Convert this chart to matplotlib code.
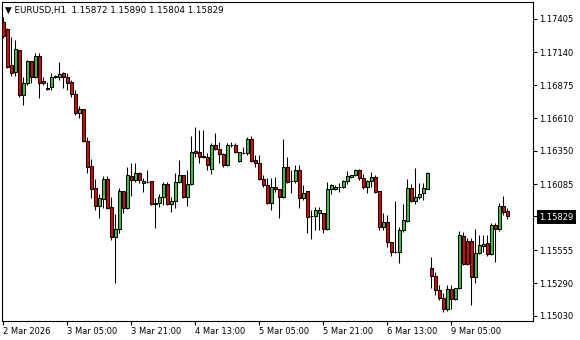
import matplotlib
matplotlib.use("Agg")
import matplotlib.pyplot as plt
import numpy as np

# EURUSD H1 bars (oldest first)
opens = [
    1.17381, 1.17325, 1.17037, 1.16981, 1.17157, 1.16797, 1.16893, 1.17069, 1.16941, 1.17109,
    1.16909, 1.16853, 1.16861, 1.16941, 1.16941, 1.16973, 1.16941, 1.16901, 1.16805, 1.16653,
    1.16685, 1.16429, 1.16229, 1.16053, 1.15909, 1.15965, 1.16125, 1.15901, 1.15661, 1.15725,
    1.16029, 1.15893, 1.16149, 1.16117, 1.16173, 1.16093, 1.16101, 1.16109, 1.15933, 1.15933,
    1.15981, 1.16085, 1.15925, 1.15949, 1.16101, 1.16157, 1.15981, 1.16085, 1.16349, 1.16341,
    1.16309, 1.16301, 1.16205, 1.16397, 1.16365, 1.16325, 1.16237, 1.16397, 1.16397, 1.16269,
    1.16333, 1.16333, 1.16445, 1.16277, 1.16253, 1.16125, 1.16077, 1.15933, 1.16061, 1.16045,
    1.15981, 1.16221, 1.16109, 1.16109, 1.16197, 1.15973, 1.16029, 1.15829, 1.15829, 1.15853,
    1.15853, 1.15725, 1.16045, 1.16045, 1.16061, 1.16061, 1.16109, 1.16141, 1.16157, 1.16197,
    1.16133, 1.16061, 1.16109, 1.16141, 1.16029, 1.15741, 1.15781, 1.15621, 1.15541, 1.15541,
    1.15717, 1.15789, 1.16053, 1.15949, 1.15981, 1.16013, 1.16045, 1.15413, 1.15349, 1.15237,
    1.15173, 1.15085, 1.15245, 1.15165, 1.15253, 1.15669, 1.15629, 1.15629, 1.15341, 1.15533,
    1.15589, 1.15613, 1.15525, 1.15757, 1.15725, 1.15909, 1.15872]
highs = [
    1.17421, 1.17333, 1.17261, 1.17237, 1.17157, 1.16941, 1.17077, 1.17069, 1.17133, 1.17133,
    1.16941, 1.16901, 1.16973, 1.16957, 1.17061, 1.16981, 1.16973, 1.16917, 1.16837, 1.16709,
    1.16685, 1.16461, 1.16285, 1.16125, 1.16005, 1.16149, 1.16149, 1.15981, 1.15845, 1.16053,
    1.16029, 1.16221, 1.16253, 1.16253, 1.16181, 1.16133, 1.16197, 1.16109, 1.15973, 1.16005,
    1.16101, 1.16101, 1.15981, 1.16173, 1.16277, 1.16157, 1.16197, 1.16469, 1.16541, 1.16517,
    1.16517, 1.16333, 1.16413, 1.16493, 1.16421, 1.16333, 1.16413, 1.16421, 1.16413, 1.16341,
    1.16381, 1.16461, 1.16469, 1.16317, 1.16317, 1.16157, 1.16133, 1.16133, 1.16141, 1.16045,
    1.16445, 1.16301, 1.16197, 1.16237, 1.16237, 1.16077, 1.16029, 1.15877, 1.15901, 1.15901,
    1.15853, 1.16101, 1.16085, 1.16077, 1.16093, 1.16117, 1.16189, 1.16157, 1.16205, 1.16205,
    1.16165, 1.16117, 1.16181, 1.16157, 1.16029, 1.15853, 1.15837, 1.15621, 1.15949, 1.15741,
    1.15925, 1.16125, 1.16085, 1.16213, 1.16093, 1.16093, 1.16181, 1.15501, 1.15381, 1.15277,
    1.15213, 1.15277, 1.15277, 1.15253, 1.15709, 1.15701, 1.15653, 1.15653, 1.15725, 1.15677,
    1.15677, 1.15677, 1.15773, 1.15773, 1.15933, 1.15989, 1.15890]
lows = [
    1.17253, 1.17013, 1.16949, 1.16949, 1.16781, 1.16717, 1.16877, 1.16893, 1.16933, 1.16773,
    1.16877, 1.16837, 1.16837, 1.16933, 1.16917, 1.16853, 1.16837, 1.16781, 1.16637, 1.16613,
    1.16421, 1.16173, 1.15973, 1.15877, 1.15813, 1.15893, 1.15885, 1.15637, 1.15293, 1.15693,
    1.15853, 1.15885, 1.15989, 1.16101, 1.16093, 1.16021, 1.16093, 1.15917, 1.15733, 1.15901,
    1.15917, 1.15917, 1.15861, 1.15893, 1.16093, 1.15973, 1.15909, 1.16077, 1.16301, 1.16253,
    1.16293, 1.16197, 1.16165, 1.16357, 1.16253, 1.16221, 1.16229, 1.16381, 1.16333, 1.16261,
    1.16325, 1.16317, 1.16261, 1.16221, 1.16117, 1.16061, 1.15925, 1.15877, 1.16021, 1.15813,
    1.15973, 1.16093, 1.16013, 1.16093, 1.15893, 1.15957, 1.15693, 1.15645, 1.15717, 1.15717,
    1.15693, 1.15717, 1.16005, 1.16037, 1.16021, 1.16053, 1.16085, 1.16133, 1.16149, 1.16117,
    1.16045, 1.16013, 1.16061, 1.16013, 1.15717, 1.15717, 1.15581, 1.15509, 1.15533, 1.15453,
    1.15701, 1.15781, 1.15941, 1.15925, 1.15965, 1.15957, 1.16045, 1.15253, 1.15197, 1.15157,
    1.15061, 1.15069, 1.15085, 1.15157, 1.15245, 1.15437, 1.15437, 1.15117, 1.15293, 1.15525,
    1.15541, 1.15509, 1.15517, 1.15461, 1.15709, 1.15837, 1.15804]
closes = [
    1.17269, 1.17021, 1.16973, 1.17165, 1.16797, 1.16893, 1.17069, 1.16941, 1.17109, 1.16893,
    1.16893, 1.16845, 1.16941, 1.16949, 1.16965, 1.16941, 1.16893, 1.16805, 1.16653, 1.16685,
    1.16429, 1.16221, 1.16045, 1.15909, 1.15973, 1.16125, 1.15893, 1.15661, 1.15725, 1.16029,
    1.15893, 1.16157, 1.16117, 1.16173, 1.16117, 1.16109, 1.16101, 1.15925, 1.15925, 1.15981,
    1.16085, 1.15925, 1.15949, 1.16101, 1.16157, 1.15981, 1.16085, 1.16341, 1.16333, 1.16301,
    1.16301, 1.16237, 1.16397, 1.16365, 1.16325, 1.16237, 1.16397, 1.16397, 1.16341, 1.16341,
    1.16333, 1.16445, 1.16269, 1.16253, 1.16125, 1.16077, 1.15933, 1.16061, 1.16045, 1.15981,
    1.16221, 1.16101, 1.16109, 1.16197, 1.15973, 1.16013, 1.15821, 1.15829, 1.15877, 1.15877,
    1.15725, 1.16045, 1.16077, 1.16061, 1.16061, 1.16109, 1.16149, 1.16157, 1.16197, 1.16133,
    1.16061, 1.16109, 1.16141, 1.16021, 1.15741, 1.15781, 1.15621, 1.15541, 1.15541, 1.15717,
    1.15797, 1.16053, 1.15949, 1.15981, 1.16005, 1.16053, 1.16173, 1.15349, 1.15237, 1.15173,
    1.15085, 1.15245, 1.15165, 1.15253, 1.15677, 1.15445, 1.15445, 1.15341, 1.15533, 1.15597,
    1.15605, 1.15525, 1.15757, 1.15725, 1.15909, 1.15861, 1.15829]

price_ticks = [1.17405, 1.17140, 1.16875, 1.16610, 1.16350, 1.16085, 1.15555, 1.15290, 1.15030]
time_tick_bars = [0, 16, 32, 48, 64, 80, 96, 112]
time_tick_labels = ["2 Mar 2026", "3 Mar 05:00", "3 Mar 21:00", "4 Mar 13:00",
                    "5 Mar 05:00", "5 Mar 21:00", "6 Mar 13:00", "9 Mar 05:00"]

o = np.array(opens); h = np.array(highs); l = np.array(lows); c = np.array(closes)
x = np.arange(len(o))

plt.rcParams['font.family'] = ['DejaVu Sans']
fig = plt.figure(figsize=(5.8, 3.4), dpi=100)
ax = fig.add_axes([2/580, 19/340, 531/580, 319/340])

bull = '#3cc43c'
bear = '#e60000'
fill = np.where(c > o, bull, np.where(c < o, bear, 'black'))

ax.vlines(x, l, h, color='black', linewidth=0.75, zorder=2)
ax.bar(x, np.abs(c - o), bottom=np.minimum(o, c), width=0.75, color=fill,
       edgecolor='black', linewidth=0.75, zorder=3)

ax.set_xlim(-0.25, 132.5)
ax.set_ylim(1.14989, 1.17541)

for s in ax.spines.values():
    s.set_linewidth(0.8)
    s.set_color('black')

ax.yaxis.tick_right()
labels = [f"{p:.5f}" for p in price_ticks] + [f"{c[-1]:.5f}"]
ax.set_yticks(price_ticks + [c[-1]], labels)
ax.tick_params(axis='y', direction='out', length=3, width=0.8, pad=1.5, labelsize=6)
last = ax.yaxis.get_major_ticks()[-1].label2
last.set_color('white')
last.set_bbox(dict(boxstyle='square,pad=0.3', fc='black', ec='none'))

ax.set_xticks(time_tick_bars, time_tick_labels)
for t in ax.get_xticklabels():
    t.set_ha('left')
ax.tick_params(axis='x', direction='out', length=3, width=0.8, pad=1, labelsize=6)

fig.text(5/580, 1 - 10/340, "\u25bc EURUSD,H1  1.15872 1.15890 1.15804 1.15829",
         fontsize=6.3, va='center', ha='left', color='black')

fig.savefig('out.png', dpi=100, facecolor='white')
